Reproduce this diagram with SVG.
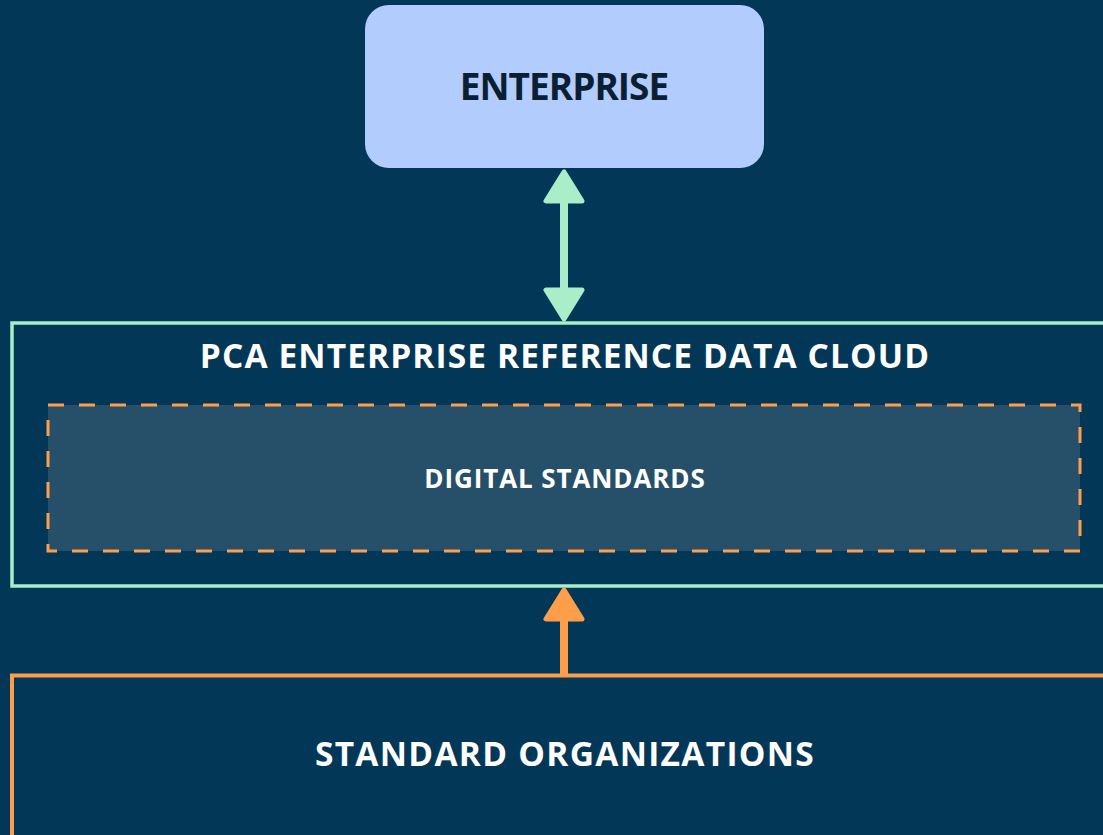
<svg xmlns="http://www.w3.org/2000/svg" width="1103" height="835" viewBox="0 0 1103 835">
<style>
.t{font-family:"Open Sans","Noto Sans","Liberation Sans",sans-serif;font-weight:700;text-anchor:middle}
.w{fill:#ffffff}
.g{stroke:#A9EEC8}
.o{stroke:#FF9E4A}
.head{stroke-width:5;stroke-linejoin:round}
</style>
<rect width="1103" height="835" fill="#023757"/>
<g id="enterprise">
<rect x="365" y="5" width="399" height="163" rx="24" fill="#B3CCFE"/>
<text class="t" x="564" y="100" font-size="37" letter-spacing="-1" fill="#0B1F33">ENTERPRISE</text>
</g>
<g id="cloud">
<rect x="12" y="323" width="1200" height="263" fill="none" stroke="#A9EEC8" stroke-width="3.5"/>
<text class="t w" x="565" y="368" font-size="33.5" letter-spacing="1.1">PCA ENTERPRISE REFERENCE DATA CLOUD</text>
</g>
<g id="digital-standards">
<rect x="48" y="405" width="1032" height="146" fill="#265069" stroke="#FF9E4A" stroke-width="3" stroke-dasharray="16 15"/>
<text class="t w" x="565" y="488" font-size="26" letter-spacing="0.9">DIGITAL STANDARDS</text>
</g>
<g id="standard-organizations">
<rect x="12" y="675.5" width="1200" height="200" fill="none" stroke="#FF9E4A" stroke-width="4"/>
<text class="t w" x="565" y="766" font-size="33.5" letter-spacing="1.3">STANDARD ORGANIZATIONS</text>
</g>
<g id="connectors">
<line x1="564" y1="195" x2="564" y2="296" class="g" stroke-width="8"/>
<polygon class="g head" fill="#A9EEC8" points="564,172 546,201 582,201"/>
<polygon class="g head" fill="#A9EEC8" points="564,319 546,290 582,290"/>
<line x1="564" y1="612" x2="564" y2="675" class="o" stroke-width="8"/>
<polygon class="o head" fill="#FF9E4A" points="564,590 546,619 582,619"/>
</g>
</svg>
